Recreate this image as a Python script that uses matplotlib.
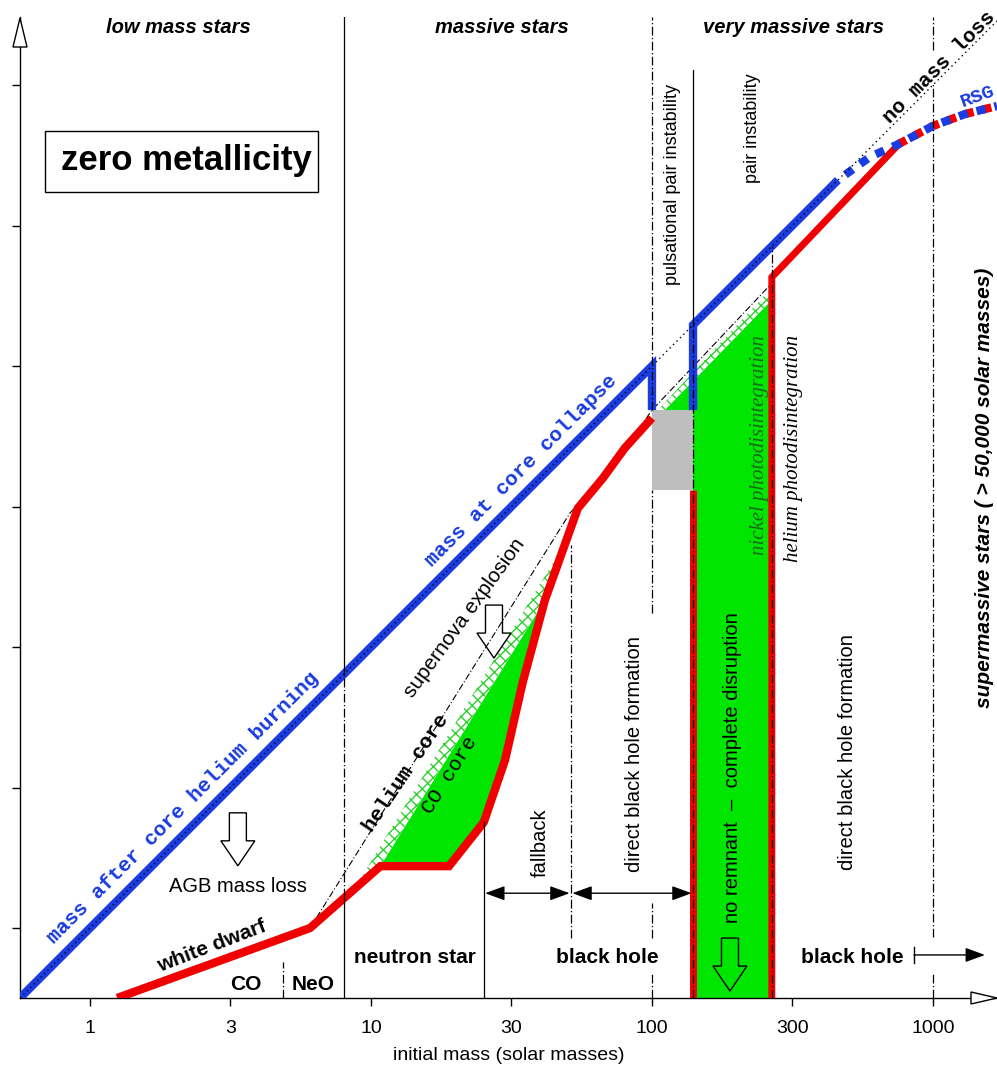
import matplotlib
matplotlib.use("Agg")
import matplotlib.pyplot as plt
from matplotlib.patches import Polygon, Rectangle
from matplotlib.transforms import ScaledTranslation
from matplotlib import font_manager

SANS = "Liberation Sans"
MONO = "Liberation Mono"
SERIF = "Liberation Serif"
_names = {f.name for f in font_manager.fontManager.ttflist}
NARROW = "Liberation Sans Narrow" if "Liberation Sans Narrow" in _names else SANS
NARROW_SIZE = 14.5 if NARROW != SANS else 13

plt.rcParams["hatch.linewidth"] = 1.0

BLUE = "#1a3ce0"
RED = "#f00000"
GREEN = "#00e600"
HATCH_GREEN = "#2ed02e"
GRAY = "#bebebe"

# axis ranges and ticks (solar masses)
x_range = (0.5636, 1690.0)
y_range = (0.5636, 1746.0)
tick_masses = [1, 3.162, 10, 31.62, 100, 316.2, 1000]
tick_labels = ["1", "3", "10", "30", "100", "300", "1000"]

# mass of the star at collapse (blue)
blue_a_init = [0.5636, 100, 100]
blue_a_final = [0.5636, 100, 69.7]
blue_b_init = [140, 140, 459]
blue_b_final = [69.7, 140, 459]
blue_rsg_init = [459, 597, 751, 1000, 1300, 1690]
blue_rsg_final = [459, 555, 615, 715, 788, 842]

# remnant mass (red)
rem_init = [1.25, 6.07, 10.8, 18.95, 25.2, 30.0, 34.7, 41.6, 54.5, 66.9, 80.1, 100]
rem_mass = [0.5636, 1.0, 1.66, 1.66, 2.38, 3.96, 7.51, 14.7, 31.2, 39.9, 51.1, 65.3]
rem_pi_init = [140, 140]
rem_pi_mass = [0.5636, 36.2]
rem_bh_init = [267, 267, 751]
rem_bh_mass = [0.5636, 207, 612]
rem_rsg_init = [751, 1000, 1300, 1690]
rem_rsg_mass = [615, 715, 788, 842]

# helium core mass
he_init = [6.07, 51.1, 70.9, 100, 267]
he_mass = [1.0, 30.0, 42.6, 69.7, 197]

# ejected CO core (solid green) and helium layer (hatched)
co_init = [10.8, 18.95, 25.2, 30.0, 34.7, 41.6]
co_mass = [1.66, 1.66, 2.38, 3.96, 7.51, 14.7]
he_layer_init = [9.0, 10.8, 41.6, 49.0]
he_layer_mass = [1.45, 1.66, 14.7, 23.4]
pi_co_init = [140, 140, 111, 267, 267]
pi_co_mass = [0.5636, 69.7, 69.7, 172, 0.5636]
pi_he_init = [105, 111, 267, 267]
pi_he_mass = [69.7, 69.7, 172, 190]

# pulsational pair instability remnants (gray)
ppi_init = (100, 140)
ppi_mass = (36.2, 69.7)

# regime boundaries: initial mass -> (low, high, style) pieces
boundaries = [
    (4.86, [(0.5636, 0.757, "dd")]),
    (8.02, [(8.02, 1746, "s"), (1.29, 8.02, "dd"), (0.5636, 1.29, "s")]),
    (25.2, [(0.5636, 2.38, "s")]),
    (51.5, [(0.921, 23.0, "dd")]),
    (100, [(69.7, 1746, "dd"), (13.2, 36.2, "dd"), (0.921, 1.23, "dd"), (0.5636, 0.697, "dd")]),
    (140, [(140, 1130, "s"), (0.5636, 140, "dd")]),
    (267, [(0.5636, 267, "dd")]),
    (1000, [(1333, 1746, "dd"), (0.929, 1016, "dd"), (0.5636, 0.69, "dd")]),
]

fig = plt.figure(figsize=(9.97, 10.67), dpi=100)
ax = fig.add_axes([20 / 997, 69 / 1067, 977 / 997, 981 / 1067])
ax.set_xscale("log")
ax.set_yscale("log")
ax.set_xlim(*x_range)
ax.set_ylim(*y_range)
for s in ("top", "right"):
    ax.spines[s].set_visible(False)
for s in ("left", "bottom"):
    ax.spines[s].set_linewidth(1.0)
ax.minorticks_off()
ax.set_xticks(tick_masses)
ax.set_xticklabels(tick_labels, fontfamily=SANS, fontsize=14)
ax.set_yticks(tick_masses)
ax.set_yticklabels([])
ax.tick_params(direction="out", length=6, width=1.0, pad=10)
ax.set_xlabel("initial mass (solar masses)", fontfamily=SANS, fontsize=14, labelpad=7)

# fills
ax.add_patch(Polygon(list(zip(co_init, co_mass)), closed=True, fc=GREEN, ec="none", zorder=2))
ax.add_patch(Polygon(list(zip(he_layer_init, he_layer_mass)), closed=True, fc="white",
                     ec=HATCH_GREEN, lw=0, hatch="xxx", zorder=2))
ax.add_patch(Polygon(list(zip(pi_co_init, pi_co_mass)), closed=True, fc=GREEN, ec="none", zorder=2))
ax.add_patch(Polygon(list(zip(pi_he_init, pi_he_mass)), closed=True, fc="white",
                     ec=HATCH_GREEN, lw=0, hatch="xxx", zorder=2))
ax.add_patch(Rectangle((ppi_init[0], ppi_mass[0]), ppi_init[1] - ppi_init[0],
                       ppi_mass[1] - ppi_mass[0], fc=GRAY, ec="none", zorder=2))

# helium core line
ax.plot(he_init, he_mass, color="black", lw=0.8, ls=(0, (6, 2, 1, 2)), zorder=3)

# remnant mass
ax.plot(rem_init, rem_mass, color=RED, lw=6, solid_joinstyle="miter", solid_capstyle="butt", zorder=4)
ax.plot(rem_pi_init, rem_pi_mass, color=RED, lw=5, solid_capstyle="butt", zorder=4)
ax.plot(rem_bh_init, rem_bh_mass, color=RED, lw=5, solid_joinstyle="miter", solid_capstyle="butt", zorder=4)
ax.plot(rem_rsg_init, rem_rsg_mass, color=RED, lw=6, ls=(0, (1.1, 1.1)), dash_capstyle="butt", zorder=4)

# final mass
ax.plot(blue_a_init, blue_a_final, color=BLUE, lw=6, solid_joinstyle="miter", solid_capstyle="butt", zorder=4)
ax.plot(blue_b_init, blue_b_final, color=BLUE, lw=6, solid_joinstyle="miter", solid_capstyle="butt", zorder=4)
ax.plot(blue_rsg_init, blue_rsg_final, color=BLUE, lw=6, ls=(1.1, (1.1, 1.1)), dash_capstyle="butt", zorder=4.1)

# no mass loss line
ax.plot(x_range, x_range, color="black", lw=1.0, ls=(0, (1, 2.5)), zorder=5)

# regime boundaries
for xb, pieces in boundaries:
    for lo, hi, st in pieces:
        ls = "-" if st == "s" else (0, (7, 2, 1, 2))
        ax.plot([xb, xb], [lo, hi], color="black", lw=0.9, ls=ls, zorder=5)

# zero metallicity box
ax.add_patch(Rectangle((0.691, 416), 6.48 - 0.691, 686 - 416, fc="white", ec="black", lw=1.0, zorder=6))
ax.text(2.20, 537, "zero metallicity", ha="center", va="center", fontfamily=SANS,
        fontsize=25, fontweight="bold", zorder=7)


def label(x, y, s, **kw):
    kw.setdefault("fontfamily", SANS)
    kw.setdefault("fontsize", 14.5)
    return ax.text(x, y, s, ha="center", va="center", rotation_mode="anchor", zorder=7, **kw)


# headings
for xm, s in [(2.06, "low mass stars"), (29.3, "massive stars"), (318, "very massive stars")]:
    label(xm, 1608, s, fontstyle="italic", fontweight="bold", fontsize=14.5)

label(2.14, 2.68, "mass after core helium burning", fontfamily=MONO, fontweight="bold",
      fontsize=15, color=BLUE, rotation=45)
label(34.2, 42.5, "mass at core collapse", fontfamily=MONO, fontweight="bold",
      fontsize=15, color=BLUE, rotation=45)
label(2.72, 0.86, "white dwarf", fontweight="bold", fontsize=15, rotation=21)
label(3.59, 0.632, "CO", fontweight="bold", fontsize=15)
label(6.22, 0.632, "NeO", fontweight="bold", fontsize=15)
label(3.36, 1.40, "AGB mass loss")
label(14.3, 0.788, "neutron star", fontweight="bold", fontsize=15)
label(69.2, 0.788, "black hole", fontweight="bold", fontsize=15)
label(515, 0.788, "black hole", fontweight="bold", fontsize=15)
label(39.9, 2.01, "fallback", rotation=90)
label(87.0, 4.16, "direct black hole formation", rotation=90)
label(498, 4.23, "direct black hole formation", rotation=90)
label(194, 3.71, "no remnant  \u2013  complete disruption", rotation=90)
label(118, 441, "pulsational pair instability", rotation=90, fontfamily=NARROW, fontsize=NARROW_SIZE)
label(227, 700, "pair instability", rotation=90, fontfamily=NARROW, fontsize=NARROW_SIZE)
label(242, 52.4, "nickel photodisintegration", rotation=90, fontfamily=SERIF,
      fontstyle="italic", fontsize=15, color="#1d6b1d")
label(318, 50.7, "helium photodisintegration", rotation=90, fontfamily=SERIF,
      fontstyle="italic", fontsize=15)
label(1531, 36.8, "supermassive stars ( > 50,000 solar masses)", rotation=90,
      fontstyle="italic", fontweight="bold", fontsize=15)
label(13.3, 3.55, "helium core", fontfamily=MONO, fontweight="bold", fontsize=15, rotation=56)
label(19.1, 3.50, "CO core", fontfamily=MONO, fontsize=15, rotation=58)
label(21.6, 12.7, "supernova explosion", fontsize=15, rotation=54)
label(1050, 1159, "no mass loss", fontfamily=MONO, fontweight="bold", fontsize=15, rotation=45)
label(1440, 910, "RSG", fontfamily=MONO, fontweight="bold", fontsize=14, color=BLUE, rotation=20)


def down_arrow(xm, ytop):
    sw, hw, hs, tip = 0.085, 0.17, 0.28, 0.53
    verts = [(-sw, 0), (sw, 0), (sw, -hs), (hw, -hs), (0, -tip), (-hw, -hs), (-sw, -hs)]
    tr = fig.dpi_scale_trans + ScaledTranslation(xm, ytop, ax.transData)
    ax.add_patch(Polygon(verts, closed=True, fill=False, ec="black", lw=1.0, transform=tr, zorder=7))


down_arrow(3.36, 2.57)
down_arrow(27.4, 14.1)
down_arrow(189.5, 0.921)

# fallback / direct collapse ranges
arrow_kw = dict(arrowstyle="<|-|>,head_length=0.6,head_width=0.22", color="black", lw=1.0,
                mutation_scale=20, shrinkA=1, shrinkB=1)
ax.annotate("", xy=(25.2, 1.33), xytext=(51.5, 1.33), arrowprops=arrow_kw, zorder=7)
ax.annotate("", xy=(51.5, 1.33), xytext=(140, 1.33), arrowprops=arrow_kw, zorder=7)
ax.annotate("", xy=(1531, 0.802), xytext=(856, 0.802),
            arrowprops=dict(arrowstyle="-|>,head_length=0.6,head_width=0.22", color="black",
                            lw=1.0, mutation_scale=20, shrinkA=0, shrinkB=0), zorder=7)
ax.plot([856, 856], [0.751, 0.856], color="black", lw=1.0, zorder=7)

# open arrowheads at the ends of the axes
yarrow = [(0, -0.01), (0.07, -0.30), (-0.07, -0.30)]
xarrow = [(0.0, 0), (-0.26, 0.06), (-0.26, -0.06)]
ax.add_patch(Polygon(yarrow, closed=True, fc="white", ec="black", lw=1.0, clip_on=False, zorder=10,
                     transform=fig.dpi_scale_trans + ScaledTranslation(0, 1, ax.transAxes)))
ax.add_patch(Polygon(xarrow, closed=True, fc="white", ec="black", lw=1.0, clip_on=False, zorder=10,
                     transform=fig.dpi_scale_trans + ScaledTranslation(1, 0, ax.transAxes)))

fig.savefig("out.png", dpi=100)
